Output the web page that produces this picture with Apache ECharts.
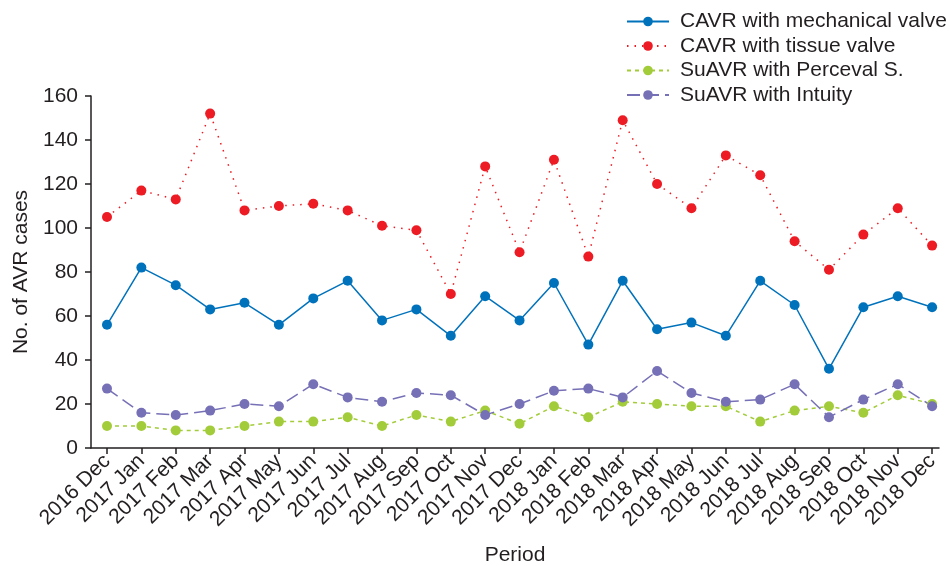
<!DOCTYPE html>
<html>
<head>
<meta charset="utf-8">
<script src="https://cdn.jsdelivr.net/npm/echarts@6/dist/echarts.min.js"></script>
<style>
html,body{margin:0;padding:0;background:#fff;}
#chart{width:950px;height:566px;}
</style>
</head>
<body>
<div id="chart"></div>
<script>
const categories = ["2016 Dec","2017 Jan","2017 Feb","2017 Mar","2017 Apr","2017 May","2017 Jun","2017 Jul","2017 Aug","2017 Sep","2017 Oct","2017 Nov","2017 Dec","2018 Jan","2018 Feb","2018 Mar","2018 Apr","2018 May","2018 Jun","2018 Jul","2018 Aug","2018 Sep","2018 Oct","2018 Nov","2018 Dec"];
const mechanical = [56, 82, 74, 63, 66, 56, 68, 76, 58, 63, 51, 69, 58, 75, 47, 76, 54, 57, 51, 76, 65, 36, 64, 69, 64];
const tissue = [105, 117, 113, 152, 108, 110, 111, 108, 101, 99, 70, 128, 89, 131, 87, 149, 120, 109, 133, 124, 94, 81, 97, 109, 92];
const perceval = [10, 10, 8, 8, 10, 12, 12, 14, 10, 15, 12, 17, 11, 19, 14, 21, 20, 19, 19, 12, 17, 19, 16, 24, 20];
const intuity = [27, 16, 15, 17, 20, 19, 29, 23, 21, 25, 24, 15, 20, 26, 27, 23, 35, 25, 21, 22, 29, 14, 22, 29, 19];
const yTicks = [0, 20, 40, 60, 80, 100, 120, 140, 160];

const FONT = "'Liberation Sans', Arial, sans-serif";
const TXT = '#231F20';
const FS = 21;
const idx = categories.map((c, i) => i);
const pairs = arr => arr.map((v, i) => [i, v]);

function mk(name, data, color, type) {
  return {
    name: name, type: 'line', data: pairs(data),
    symbol: 'circle', symbolSize: 10,
    itemStyle: { color: color },
    lineStyle: { color: color, width: 1.5, type: type },
    emphasis: { disabled: true }
  };
}

const chart = echarts.init(document.getElementById('chart'));
chart.setOption({
  animation: false,
  backgroundColor: '#fff',
  textStyle: { fontFamily: FONT },
  legend: {
    orient: 'vertical', left: 626, top: 11, padding: 0,
    itemWidth: 42, itemHeight: 12, itemGap: 3.5,
    textStyle: { fontSize: FS, color: TXT, fontFamily: FONT, lineHeight: 21, padding: [0, 0, 0, 6] },
    data: ['CAVR with mechanical valve', 'CAVR with tissue valve', 'SuAVR with Perceval S.', 'SuAVR with Intuity']
  },
  grid: { left: 91, right: 11, top: 96, bottom: 118, containLabel: false, outerBoundsMode: 'none' },
  xAxis: {
    type: 'value', min: -0.465, max: 24.2,
    name: 'Period', nameLocation: 'middle', nameGap: 97,
    nameTextStyle: { fontSize: FS, color: TXT, fontFamily: FONT },
    axisLine: { onZero: false, lineStyle: { color: TXT, width: 1.5 } },
    axisTick: { show: true, length: 6, customValues: idx, lineStyle: { color: TXT, width: 1.5 } },
    axisLabel: { customValues: idx, rotate: 45, margin: 10, fontSize: FS, color: TXT, fontFamily: FONT,
      formatter: v => categories[Math.round(v)] },
    splitLine: { show: false }
  },
  yAxis: {
    type: 'value', min: yTicks[0], max: yTicks[yTicks.length - 1], interval: 20,
    name: 'No. of AVR cases', nameLocation: 'middle', nameGap: 58, nameRotate: 90,
    nameTextStyle: { fontSize: FS, color: TXT, fontFamily: FONT },
    axisLine: { show: true, onZero: false, lineStyle: { color: TXT, width: 1.5 } },
    axisTick: { show: true, length: 6, lineStyle: { color: TXT, width: 1.5 } },
    axisLabel: { margin: 13, fontSize: FS, color: TXT, fontFamily: FONT },
    splitLine: { show: false }
  },
  series: [
    mk('CAVR with mechanical valve', mechanical, '#0072BC', 'solid'),
    mk('CAVR with tissue valve', tissue, '#ED1C24', [1.5, 6]),
    mk('SuAVR with Perceval S.', perceval, '#A3CC3A', [4, 4]),
    mk('SuAVR with Intuity', intuity, '#7670B6', [13, 6])
  ]
});
</script>
</body>
</html>
